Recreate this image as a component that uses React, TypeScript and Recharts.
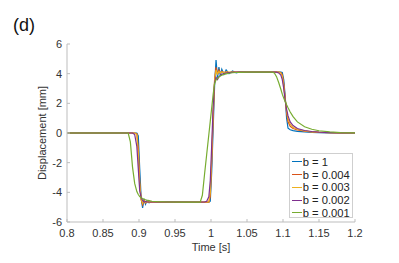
import React from 'react';
import { LineChart, Line, XAxis, YAxis, Legend } from 'recharts';

const times = [
  0.8, 0.885, 0.888, 0.891, 0.894, 0.897, 0.899, 0.901, 0.903, 0.905,
  0.907, 0.909, 0.911, 0.914, 0.918, 0.925, 0.94, 0.96, 0.985, 0.988,
  0.991, 0.994, 0.997, 0.999, 1.001, 1.003, 1.005, 1.007, 1.009, 1.011,
  1.013, 1.015, 1.018, 1.021, 1.025, 1.03, 1.035, 1.04, 1.05, 1.07,
  1.085, 1.088, 1.091, 1.094, 1.097, 1.099, 1.101, 1.103, 1.105, 1.107,
  1.11, 1.114, 1.12, 1.13, 1.14, 1.15, 1.165, 1.18, 1.2,
];

const b1 = [
  0, 0, 0, 0, 0, 0, -0.2, -2.4, -4.4, -5.05,
  -4.45, -4.8, -4.58, -4.7, -4.62, -4.67, -4.65, -4.66, -4.67, -4.67,
  -4.67, -4.67, -4.67, -4.6, -2.6, 0.3, 3.2, 4.92, 3.7, 4.45,
  3.85, 4.3, 3.95, 4.25, 4.0, 4.18, 4.05, 4.12, 4.1, 4.1,
  4.1, 4.1, 4.1, 4.1, 4.1, 4.08, 3.6, 2.5, 1.0, 0.32,
  0.22, 0.16, 0.11, 0.07, 0.04, 0.02, 0.01, 0, 0,
];

const b004 = [
  0, 0, 0, 0, 0, -0.05, -1.0, -3.3, -4.5, -4.85,
  -4.55, -4.72, -4.62, -4.67, -4.65, -4.66, -4.66, -4.66, -4.66, -4.66,
  -4.66, -4.66, -4.66, -4.3, -1.9, 1.0, 3.6, 4.45, 3.95, 4.25,
  4.02, 4.16, 4.06, 4.12, 4.08, 4.1, 4.1, 4.1, 4.1, 4.1,
  4.1, 4.1, 4.1, 4.1, 4.08, 3.95, 3.35, 2.35, 1.35, 0.75,
  0.45, 0.3, 0.2, 0.12, 0.07, 0.04, 0.02, 0.01, 0,
];

const b003 = [
  0, 0, 0, 0, 0, -0.1, -1.4, -3.5, -4.45, -4.75,
  -4.58, -4.68, -4.63, -4.66, -4.65, -4.65, -4.65, -4.65, -4.65, -4.65,
  -4.65, -4.65, -4.65, -4.0, -1.6, 1.3, 3.5, 4.25, 3.98, 4.15,
  4.05, 4.12, 4.08, 4.1, 4.1, 4.1, 4.1, 4.1, 4.1, 4.1,
  4.1, 4.1, 4.1, 4.1, 4.05, 3.85, 3.2, 2.3, 1.5, 0.95,
  0.6, 0.38, 0.25, 0.14, 0.08, 0.05, 0.02, 0.01, 0,
];

const b002 = [
  0, 0, 0, 0, -0.1, -0.9, -2.4, -3.9, -4.35, -4.55,
  -4.65, -4.62, -4.64, -4.65, -4.65, -4.65, -4.65, -4.65, -4.65, -4.65,
  -4.65, -4.6, -4.3, -3.2, -0.8, 1.8, 3.4, 3.75, 3.6, 3.8,
  3.88, 3.95, 4.0, 4.04, 4.07, 4.09, 4.1, 4.1, 4.1, 4.1,
  4.1, 4.1, 4.1, 4.05, 3.9, 3.6, 3.0, 2.2, 1.6, 1.15,
  0.75, 0.5, 0.3, 0.17, 0.1, 0.06, 0.03, 0.01, 0,
];

const b001 = [
  0, 0, -0.6, -2.3, -3.4, -3.95, -4.15, -4.28, -4.36, -4.42,
  -4.46, -4.5, -4.53, -4.56, -4.6, -4.63, -4.65, -4.66, -4.66, -4.2,
  -2.8, -1.45, -0.1, 0.8, 1.7, 2.6, 3.35, 3.58, 3.7, 3.78,
  3.84, 3.89, 3.95, 3.99, 4.03, 4.06, 4.08, 4.09, 4.1, 4.1,
  4.1, 4.05, 3.8, 3.4, 2.95, 2.62, 2.35, 2.12, 1.9, 1.7,
  1.42, 1.1, 0.75, 0.42, 0.25, 0.15, 0.07, 0.03, 0.01,
];

const seriesNames = ['b = 1', 'b = 0.004', 'b = 0.003', 'b = 0.002', 'b = 0.001'];
const seriesKeys = ['s1', 's004', 's003', 's002', 's001'];
const seriesColors = ['#0072BD', '#D95319', '#EDB120', '#7E2F8E', '#77AC30'];
const seriesValues = [b1, b004, b003, b002, b001];

const xTicks = [0.8, 0.85, 0.9, 0.95, 1, 1.05, 1.1, 1.15, 1.2];
const yTicks = [-6, -4, -2, 0, 2, 4, 6];

const data = times.map((t, i) => {
  const row: Record<string, number> = { t };
  seriesKeys.forEach((k, j) => {
    row[k] = seriesValues[j][i];
  });
  return row;
});

const FONT = '"Liberation Sans", Arial, sans-serif';
const AXIS = '#bdbdbd';
const TXT = '#333333';

const renderLegend = () => (
  <div
    style={{
      width: 64,
      height: 65,
      boxSizing: 'border-box',
      border: '1px solid #cfcfcf',
      background: '#ffffff',
      paddingTop: 1.6,
      fontFamily: FONT,
    }}
  >
    {seriesNames.map((n, i) => (
      <div key={n} style={{ display: 'flex', alignItems: 'center', height: 12.7 }}>
        <span
          style={{
            display: 'inline-block',
            width: 10,
            height: 0,
            borderTop: `1.3px solid ${seriesColors[i]}`,
            marginLeft: 1.7,
            flexShrink: 0,
          }}
        />
        <span
          style={{
            fontSize: 11.2,
            color: '#222',
            marginLeft: 1,
            lineHeight: '12px',
            whiteSpace: 'nowrap',
          }}
        >
          {n}
        </span>
      </div>
    ))}
  </div>
);

export default function App() {
  const tickStyle = { fontSize: 11, fill: TXT, fontFamily: FONT };
  return (
    <div style={{ position: 'absolute', left: 0, top: 0, width: 399, height: 263, background: '#fff' }}>
      <LineChart
        width={399}
        height={263}
        data={data}
        margin={{ top: 44, right: 44, bottom: 11, left: 0 }}
      >
        <XAxis
          dataKey="t"
          type="number"
          domain={[0.8, 1.2]}
          ticks={xTicks}
          allowDataOverflow
          tickFormatter={(v: number) => String(+v.toFixed(2))}
          height={30}
          tickSize={-3}
          tickMargin={10}
          stroke={AXIS}
          tick={tickStyle}
          interval={0}
        />
        <XAxis
          xAxisId="top"
          orientation="top"
          type="number"
          domain={[0.8, 1.2]}
          ticks={xTicks}
          allowDataOverflow
          height={0}
          tickSize={-3}
          tick={false}
          stroke={AXIS}
          interval={0}
        />
        <YAxis
          type="number"
          domain={[-6, 6]}
          ticks={yTicks}
          allowDataOverflow
          width={67}
          tickSize={-3}
          tickMargin={8}
          stroke={AXIS}
          tick={tickStyle}
          interval={0}
        />
        <YAxis
          yAxisId="r"
          orientation="right"
          type="number"
          domain={[-6, 6]}
          ticks={yTicks}
          allowDataOverflow
          width={0}
          tickSize={-3}
          tick={false}
          stroke={AXIS}
          interval={0}
        />
        {seriesKeys.map((k, i) => (
          <Line
            key={k}
            dataKey={k}
            name={seriesNames[i]}
            type="linear"
            stroke={seriesColors[i]}
            strokeWidth={1.2}
            dot={false}
            isAnimationActive={false}
          />
        ))}
        <Legend
          content={renderLegend}
          layout="vertical"
          align="center"
          verticalAlign="middle"
          wrapperStyle={{ position: 'absolute', left: 289, top: 153, width: 64, height: 65 }}
        />
      </LineChart>
      <svg
        width={399}
        height={263}
        style={{ position: 'absolute', left: 0, top: 0, pointerEvents: 'none' }}
      >
        <text x={13} y={31} fontSize={18} fill="#111" fontFamily={FONT}>(d)</text>
        <text x={211} y={250.5} fontSize={11} fill={TXT} fontFamily={FONT} textAnchor="middle">Time [s]</text>
        <text
          transform="translate(46,133) rotate(-90)"
          fontSize={11}
          fill={TXT}
          fontFamily={FONT}
          textAnchor="middle"
        >
          Displacement [mm]
        </text>
      </svg>
    </div>
  );
}
